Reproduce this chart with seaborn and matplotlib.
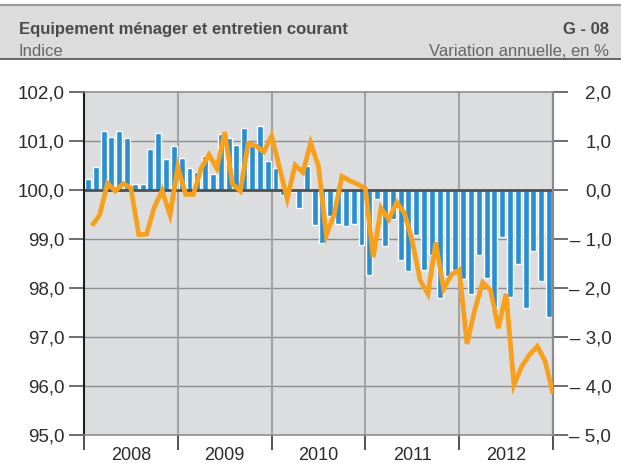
import numpy as np
import pandas as pd
import matplotlib
matplotlib.use("Agg")
import matplotlib.pyplot as plt
import seaborn as sns
from matplotlib.patches import Rectangle
from matplotlib.lines import Line2D

# ---- data ----
years = ["2008", "2009", "2010", "2011", "2012"]
month_labels = [f"{y}-{m:02d}" for y in years for m in range(1, 13)]

variation = [
    0.22, 0.47, 1.20, 1.08, 1.20, 1.06, 0.12, 0.12, 0.84, 1.16, 0.63, 0.90,
    0.65, 0.45, 0.37, 0.70, 0.32, 1.15, 1.07, 0.92, 1.26, 0.90, 1.30, 0.60,
    0.45, -0.11, -0.05, -0.36, 0.50, -0.71, -1.08, -0.54, -0.69, -0.73, -0.69, -1.12,
    -1.73, -0.18, -1.15, -0.59, -1.43, -1.66, -0.92, -1.64, -1.33, -2.21, -1.75, -1.63,
    -1.81, -2.12, -1.32, -1.79, -2.40, -0.95, -2.18, -1.51, -2.41, -1.24, -1.86, -2.59,
]

indice = [
    99.27, 99.49, 100.14, 99.98, 100.13, 100.04, 99.09, 99.10, 99.65, 99.99, 99.49, 100.47,
    99.91, 99.91, 100.45, 100.72, 100.44, 101.18, 100.12, 99.98, 100.95, 100.90, 100.78, 101.10,
    100.46, 99.82, 100.51, 100.36, 100.96, 100.48, 99.08, 99.50, 100.28, 100.19, 100.12, 100.03,
    98.63, 99.63, 99.40, 99.75, 99.53, 98.95, 98.16, 97.88, 98.93, 97.98, 98.27, 98.37,
    96.86, 97.56, 98.11, 97.96, 97.18, 97.88, 96.02, 96.40, 96.64, 96.81, 96.50, 95.84,
]

left_ticks = [95, 96, 97, 98, 99, 100, 101, 102]
right_ticks = [-5, -4, -3, -2, -1, 0, 1, 2]

title = "Equipement ménager et entretien courant"
code = "G - 08"
left_unit = "Indice"
right_unit = "Variation annuelle, en %"

# ---- style ----
sns.set_theme(style="white")
plt.rcParams['font.family'] = ['Liberation Sans', 'DejaVu Sans']

W, H = 621, 463
fig = plt.figure(figsize=(W / 100, H / 100), dpi=100)

# header band
top_px, bot_px = 4.8, 58.6
fig.patches.append(Rectangle((0, 1 - bot_px / H), 1, (bot_px - top_px) / H,
                             transform=fig.transFigure, facecolor='#DCDCDC',
                             edgecolor='none', zorder=0))
fig.add_artist(Line2D([0, 1], [1 - top_px / H] * 2, transform=fig.transFigure,
                      color='#9C9C9C', lw=1.6))
fig.add_artist(Line2D([0, 1], [1 - bot_px / H] * 2, transform=fig.transFigure,
                      color='#5A5A5A', lw=1.3))
fig.text(19 / W, 1 - 33.9 / H, title, fontsize=12, fontweight='bold',
         color='#4A4A4A', va='baseline', ha='left')
fig.text(609 / W, 1 - 33.9 / H, code, fontsize=12, fontweight='bold',
         color='#4A4A4A', va='baseline', ha='right')
fig.text(19 / W, 1 - 55.8 / H, left_unit, fontsize=12,
         color='#666666', va='baseline', ha='left')
fig.text(609 / W, 1 - 55.8 / H, right_unit, fontsize=12,
         color='#666666', va='baseline', ha='right')

# plot area
L, R, T, B = 84, 553, 92, 435
ax = fig.add_axes([L / W, 1 - B / H, (R - L) / W, (B - T) / H])
ax.set_facecolor('#DCDDDF')

df = pd.DataFrame({'mois': month_labels, 'variation': variation, 'indice': indice})
sns.barplot(data=df, x='mois', y='variation', color='#2A8FD1', saturation=1,
            width=0.76, ax=ax, zorder=2)

n = len(month_labels)
ax.set_xlim(-0.5, n - 0.5)
ax.set_ylim(right_ticks[0], right_ticks[-1])

# grid
for v in right_ticks[1:-1]:
    if v == 0:
        continue
    ax.axhline(v, color='#8E8E8E', lw=1.0, zorder=1)
ax.axhline(0, color='#4F4F4F', lw=2.0, zorder=3)
bounds = [i * 12 - 0.5 for i in range(len(years) + 1)]
for b in bounds[1:-1]:
    ax.axvline(b, color='#A3A3A3', lw=1.5, zorder=1)

# line on twin axis (left scale)
ax2 = ax.twinx()
sns.lineplot(x=np.arange(n) + 0.5, y=indice, ax=ax2, color='#F8A01C', lw=3.4,
             solid_joinstyle='miter', solid_capstyle='butt', zorder=5)
ax2.set_ylim(left_ticks[0], left_ticks[-1])
ax2.set_xlim(-0.5, n - 0.5)

# spines
for s in ['top', 'bottom', 'left', 'right']:
    ax.spines[s].set_visible(False)
ax2.spines['top'].set_color('#8E8E8E')
ax2.spines['top'].set_linewidth(1.2)
ax2.spines['bottom'].set_color('#8E8E8E')
ax2.spines['bottom'].set_linewidth(1.2)
ax2.spines['left'].set_color('#1E1E1E')
ax2.spines['left'].set_linewidth(1.5)
ax2.spines['right'].set_color('#8A8A8A')
ax2.spines['right'].set_linewidth(1.6)

# y ticks: bars -> right, line -> left
def fmt_idx(v):
    return f"{v:.1f}".replace('.', ',')

def fmt_pct(v):
    if v < 0:
        return "\u2013 " + f"{abs(v):.1f}".replace('.', ',')
    return f"{v:.1f}".replace('.', ',')

ax.yaxis.tick_right()
ax.set_yticks(right_ticks, labels=[fmt_pct(v) for v in right_ticks])
ax.tick_params(axis='y', which='major', direction='out', length=11, width=1.2,
               color='#555555', labelsize=13.5, labelcolor='#2B2B2B', pad=31)
ax.set_ylabel('')

ax2.yaxis.tick_left()
ax2.set_yticks(left_ticks, labels=[fmt_idx(v) for v in left_ticks])
ax2.tick_params(axis='y', which='major', direction='out', length=11, width=1.2,
                color='#555555', labelsize=13.5, labelcolor='#2B2B2B', pad=3)
ax2.set_ylabel('')
ax2.set_xlabel('')

# x ticks
ax.set_xticks(bounds, labels=[''] * len(bounds))
ax.set_xticks([i * 12 + 5.5 for i in range(len(years))], labels=years, minor=True)
ax.tick_params(axis='x', which='major', direction='out', length=11, width=1.2,
               color='#333333', bottom=True)
ax.tick_params(axis='x', which='minor', length=0, pad=9, labelsize=13,
               labelcolor='#2B2B2B', bottom=True)
ax.set_xlabel('')

plt.setp(ax.yaxis.get_majorticklabels(), ha='right')

fig.savefig('out.png', dpi=100)
